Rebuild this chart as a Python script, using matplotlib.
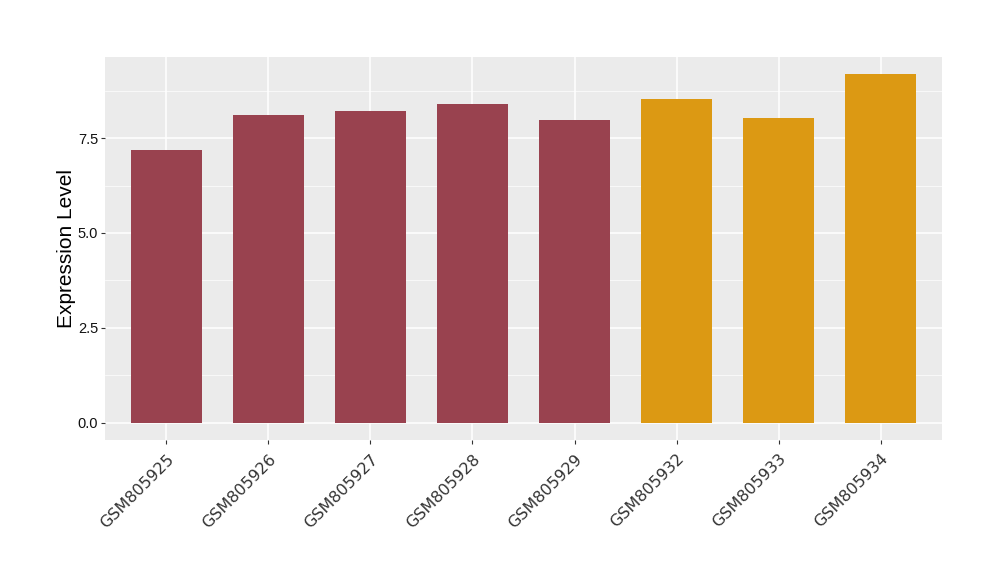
import numpy as np
import matplotlib
matplotlib.use("Agg")
import matplotlib.pyplot as plt

# sample names and expression values
samples = ["GSM805925", "GSM805926", "GSM805927", "GSM805928",
           "GSM805929", "GSM805932", "GSM805933", "GSM805934"]
expression = [7.18, 8.11, 8.21, 8.39, 7.97, 8.53, 8.03, 9.18]
groups = ["a", "a", "a", "a", "a", "b", "b", "b"]
group_colors = {"a": "#99424F", "b": "#DC9913"}

fig = plt.figure(figsize=(10, 5.8), dpi=100)
ax = fig.add_axes([0.105, 0.241, 0.837, 0.661])

x = np.arange(len(samples))
ax.bar(x, expression, width=0.7, color=[group_colors[g] for g in groups], zorder=3)

# ggplot-like grey panel with white grid
ax.set_facecolor("#EBEBEB")
for s in ax.spines.values():
    s.set_visible(False)
ax.set_xlim(-0.6, len(samples) - 0.4)
ymax = max(expression)
ax.set_ylim(-0.05 * ymax, ymax * 1.05)
ax.set_yticks([0, 2.5, 5.0, 7.5])
ax.set_yticklabels(["0.0", "2.5", "5.0", "7.5"])
ax.set_yticks([1.25, 3.75, 6.25, 8.75], minor=True)
ax.grid(True, which="major", color="white", linewidth=1.1, zorder=0)
ax.grid(True, which="minor", axis="y", color="white", linewidth=0.5, zorder=0)
ax.set_axisbelow(True)

ax.set_xticks(x)
ax.set_xticklabels(samples, rotation=45, ha="right", rotation_mode="anchor",
                   fontsize=11.5, color="#111111")
ax.tick_params(axis="y", labelsize=10.5, colors="#333333", length=3,
               labelcolor="#111111", pad=2)
ax.tick_params(axis="x", length=3, colors="#333333", pad=5)
ax.tick_params(axis="y", which="minor", length=0)
for lab in ax.get_yticklabels():
    lab.set_family("Liberation Sans")

ax.set_ylabel("Expression Level", fontsize=15, family="Liberation Sans", labelpad=1)

plt.savefig("out.png", dpi=100)
